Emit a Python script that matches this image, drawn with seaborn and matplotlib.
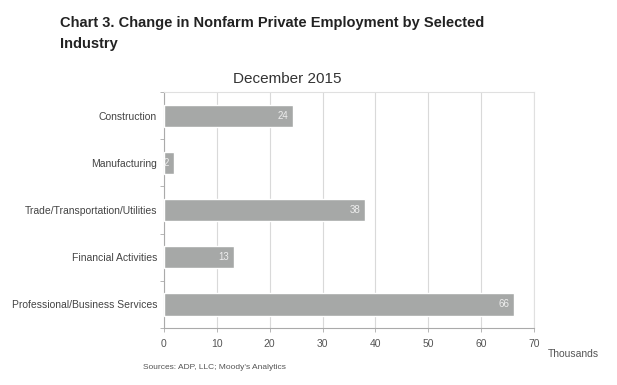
import numpy as np
import pandas as pd
import seaborn as sns
import matplotlib.pyplot as plt

industries = ['Construction', 'Manufacturing', 'Trade/Transportation/Utilities',
              'Financial Activities', 'Professional/Business Services']
jobs = [24.4, 1.8, 38.1, 13.2, 66.2]
xticks = [0, 10, 20, 30, 40, 50, 60, 70]

df = pd.DataFrame({'industry': industries, 'jobs': jobs})

sns.set_theme(style="white")
plt.rcParams['font.family'] = ['Liberation Sans', 'DejaVu Sans']

fig = plt.figure(figsize=(6.17, 3.85), dpi=100)
ax = fig.add_axes([0.2658, 0.148, 0.5997, 0.613])

sns.barplot(data=df, x='jobs', y='industry', orient='h', color='#a6a8a7',
            saturation=1, width=0.47, ax=ax, zorder=3)

ax.set_xlim(0, 70)
ax.set_ylim(4.5, -0.5)
ax.set_xticks(xticks)
ax.set_xticklabels([str(t) for t in xticks], fontsize=7.5, color='#555555')
ax.tick_params(axis='x', length=3, width=0.6, color='#aaaaaa', pad=5, direction='out', bottom=True)
ax.tick_params(axis='y', length=0, labelsize=7.5, labelcolor='#444444', pad=5)
ax.set_yticks(np.arange(-0.5, 5, 1), minor=True)
ax.tick_params(axis='y', which='minor', length=3, width=0.6, color='#aaaaaa', left=True, direction='out')
ax.grid(axis='x', color='#d9d9d9', linewidth=0.8, zorder=0)
ax.set_axisbelow(True)
for side in ['top', 'right']:
    ax.spines[side].set_color('#e0e0e0')
    ax.spines[side].set_linewidth(0.8)
for side in ['left', 'bottom']:
    ax.spines[side].set_color('#aaaaaa')
    ax.spines[side].set_linewidth(0.8)
ax.set_xlabel('')
ax.set_ylabel('')

for i, v in enumerate(jobs):
    ax.text(v - 0.9, i, str(int(round(v))), ha='right', va='center', fontsize=7,
            color='#eeeeee', zorder=4)

fig.text(0.097, 0.939, 'Chart 3. Change in Nonfarm Private Employment by Selected',
         fontsize=10.5, fontweight='bold', color='#222222', va='center')
fig.text(0.097, 0.885, 'Industry', fontsize=10.5, fontweight='bold', color='#222222', va='center')
fig.text(0.466, 0.795, 'December 2015', fontsize=11, color='#333333', ha='center', va='center')
fig.text(0.888, 0.08, 'Thousands', fontsize=7.5, color='#555555', va='center')
fig.text(0.232, 0.046, "Sources: ADP, LLC; Moody's Analytics", fontsize=6, color='#555555', va='center')

fig.savefig('out.png', dpi=100)
